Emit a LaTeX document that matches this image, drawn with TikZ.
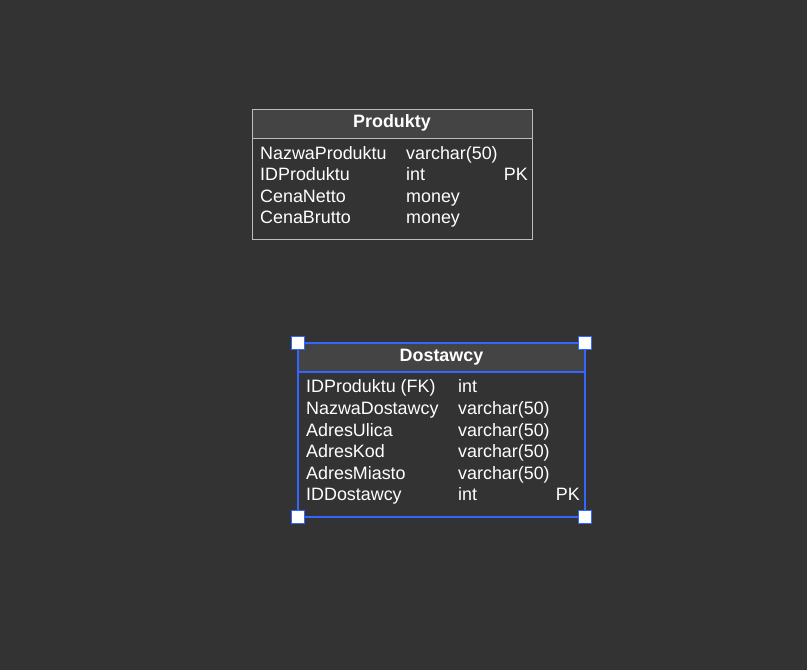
\documentclass[tikz,border=0pt]{standalone}
\usepackage{fontspec}
\setmainfont{Liberation Sans}
\begin{document}
\begin{tikzpicture}[x=1pt,y=-1pt,
  txt/.style={inner sep=0pt,anchor=base west,text=white,font=\fontsize{17.9}{20}\selectfont},
  txtr/.style={txt,anchor=base east},
  hdr/.style={inner sep=0pt,anchor=base,text=white,font=\fontsize{17.9}{20}\selectfont\bfseries},
  handle/.style={draw=selblue,fill=white,line width=1.2pt,minimum size=12.5pt,inner sep=0pt}]
\definecolor{bg}{HTML}{333333}
\definecolor{hdrfill}{HTML}{444444}
\definecolor{gborder}{HTML}{BDBDBD}
\definecolor{selblue}{HTML}{3366FF}
\fill[bg] (0,0) rectangle (807,670);
\useasboundingbox (0,0) rectangle (807,670);
% Produkty
\fill[hdrfill] (252,109) rectangle (532,138);
\draw[gborder,line width=1pt] (252,109) rectangle (532,239);
\draw[gborder,line width=1pt] (252,138) -- (532,138);
\node[hdr] (ph) at (392,127.5) {Produkty};
\node[txt] (p1a) at (260,159.5) {NazwaProduktu};
\node[txt] (p1b) at (406,159.5) {varchar(50)};
\node[txt] (p2a) at (260,180.5) {IDProduktu};
\node[txt] (p2b) at (406,180.5) {int};
\node[txtr] (p2c) at (528,180.5) {PK};
\node[txt] (p3a) at (260,202) {CenaNetto};
\node[txt] (p3b) at (406,202) {money};
\node[txt] (p4a) at (260,223.5) {CenaBrutto};
\node[txt] (p4b) at (406,223.5) {money};
% Dostawcy
\fill[hdrfill] (298,343) rectangle (585,372);
\draw[selblue,line width=2pt] (298,343) rectangle (585,517);
\draw[selblue,line width=2pt] (298,372) -- (585,372);
\node[hdr] (dh) at (441.5,361.5) {Dostawcy};
\node[txt] (d1a) at (306,392.5) {IDProduktu (FK)};
\node[txt] (d1b) at (458,392.5) {int};
\node[txt] (d2a) at (306,414) {NazwaDostawcy};
\node[txt] (d2b) at (458,414) {varchar(50)};
\node[txt] (d3a) at (306,436) {AdresUlica};
\node[txt] (d3b) at (458,436) {varchar(50)};
\node[txt] (d4a) at (306,457.5) {AdresKod};
\node[txt] (d4b) at (458,457.5) {varchar(50)};
\node[txt] (d5a) at (306,479) {AdresMiasto};
\node[txt] (d5b) at (458,479) {varchar(50)};
\node[txt] (d6a) at (306,500.5) {IDDostawcy};
\node[txt] (d6b) at (458,500.5) {int};
\node[txtr] (d6c) at (580,500.5) {PK};
\node[handle] (h1) at (298,343) {};
\node[handle] (h2) at (585,343) {};
\node[handle] (h3) at (298,517) {};
\node[handle] (h4) at (585,517) {};
\end{tikzpicture}
\end{document}
